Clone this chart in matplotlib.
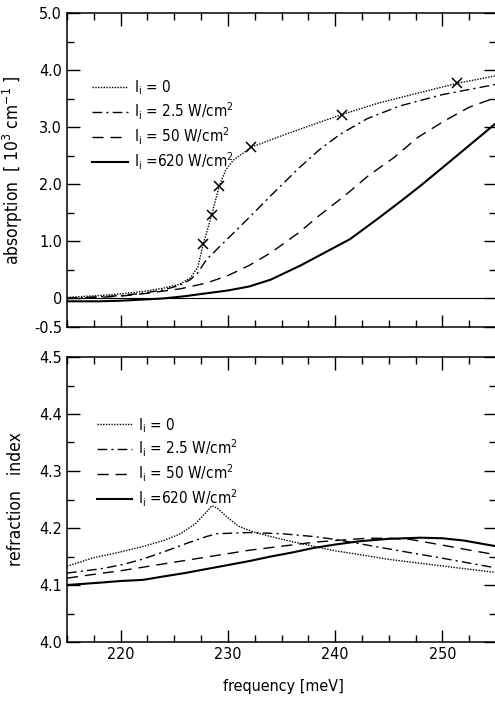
import matplotlib
matplotlib.use("Agg")
import matplotlib.pyplot as plt
from matplotlib.ticker import MultipleLocator

plt.rcParams['font.family'] = ['DejaVu Sans']
plt.rcParams['font.stretch'] = 'condensed'
plt.rcParams['mathtext.fontset'] = 'dejavusans'

# absorption [10^3 cm^-1] vs frequency [meV]
f_abs0 = [215, 218, 220, 222, 224, 225.5, 226.5, 227.2, 227.7, 228.5, 229.2, 229.8, 230.5,
          232.2, 235, 238, 240.6, 244, 248, 251.4, 255]
a_abs0 = [0.02, 0.05, 0.08, 0.12, 0.18, 0.25, 0.36, 0.55, 0.95, 1.47, 1.97, 2.25, 2.42,
          2.65, 2.85, 3.05, 3.22, 3.42, 3.61, 3.77, 3.90]
f_cross = [227.7, 228.5, 229.2, 232.2, 240.6, 251.4]
a_cross = [0.95, 1.47, 1.97, 2.65, 3.22, 3.77]

f_abs25 = [215, 218, 220, 222, 224, 225.5, 226.5, 227.2, 228, 230, 232, 234, 236.6,
           238.5, 240.5, 243, 246, 250, 255]
a_abs25 = [0.0, 0.03, 0.05, 0.09, 0.15, 0.23, 0.33, 0.45, 0.68, 1.05, 1.42, 1.80, 2.28,
           2.60, 2.88, 3.15, 3.37, 3.57, 3.75]

f_abs50 = [215, 218, 220, 222, 224, 225.6, 228, 230, 232, 234, 236.6, 238.5, 240.9,
           243.1, 245.5, 247.7, 250.1, 252.5, 255]
a_abs50 = [0.0, 0.02, 0.04, 0.08, 0.13, 0.17, 0.27, 0.40, 0.58, 0.80, 1.15, 1.45, 1.80,
           2.15, 2.47, 2.82, 3.10, 3.35, 3.52]

f_abs620 = [215, 218, 220, 222, 224, 226, 228, 230, 232, 234, 236.8, 239, 241.4,
            244, 246.1, 248, 250, 252.5, 255]
a_abs620 = [-0.05, -0.05, -0.04, -0.02, 0.0, 0.04, 0.09, 0.14, 0.21, 0.33, 0.58, 0.80, 1.04,
            1.40, 1.70, 1.98, 2.29, 2.68, 3.07]

# refraction index vs frequency [meV]
f_n0 = [215, 217.5, 220, 222, 224, 225.6, 227, 228, 228.5, 229, 230, 231, 232.4,
        234, 236, 238, 240, 242.4, 245, 248, 251, 255]
n_0 = [4.133, 4.148, 4.158, 4.167, 4.178, 4.19, 4.208, 4.228, 4.239, 4.235, 4.218, 4.203, 4.193,
       4.185, 4.176, 4.168, 4.16, 4.153, 4.145, 4.138, 4.131, 4.122]

f_n25 = [215, 218, 220, 222, 224, 226, 228, 229, 232, 235, 238, 240, 243, 246, 250, 255]
n_25 = [4.121, 4.128, 4.135, 4.145, 4.158, 4.172, 4.185, 4.19, 4.192, 4.19, 4.185, 4.18,
        4.17, 4.16, 4.147, 4.13]

f_n50 = [215, 218, 220, 222, 224, 226, 228, 230, 232, 235, 238, 240, 243, 245, 247, 250, 252, 255]
n_50 = [4.112, 4.12, 4.125, 4.131, 4.137, 4.143, 4.149, 4.155, 4.161, 4.168, 4.175, 4.178,
        4.182, 4.182, 4.18, 4.17, 4.163, 4.153]

f_n620 = [215, 218, 220, 222.1, 224, 226, 228, 230, 232, 234, 236, 238, 240, 242.4,
          245, 248, 250, 252, 255]
n_620 = [4.10, 4.104, 4.107, 4.109, 4.115, 4.121, 4.128, 4.135, 4.142, 4.15, 4.157, 4.165,
         4.171, 4.177, 4.181, 4.183, 4.182, 4.178, 4.168]

labels = ["I$_\\mathrm{i}$ = 0", "I$_\\mathrm{i}$ = 2.5 W/cm$^2$",
          "I$_\\mathrm{i}$ = 50 W/cm$^2$", "I$_\\mathrm{i}$ =620 W/cm$^2$"]

estilos = [dict(ls=(0, (1, 1)), lw=1.0),
           dict(ls=(0, (7, 3, 1.5, 3)), lw=1.0),
           dict(ls=(0, (8, 5)), lw=1.0),
           dict(ls='-', lw=1.5)]

fig = plt.figure(figsize=(4.95, 7.07), dpi=100)
ax1 = fig.add_axes([67/495, 1 - 327/707, 429/495, 314/707])
ax2 = fig.add_axes([67/495, 1 - 642/707, 429/495, 285/707])

# absorcion
series_abs = [(f_abs0, a_abs0), (f_abs25, a_abs25), (f_abs50, a_abs50), (f_abs620, a_abs620)]
for (f, a), st, lab in zip(series_abs, estilos, labels):
    ax1.plot(f, a, color='black', label=lab, **st)
ax1.plot(f_cross, a_cross, 'x', color='black', ms=7, mew=1.1)
ax1.axhline(0, color='black', lw=0.8)
ax1.set_ylim(-0.5, 5.0)
ax1.set_yticks([-0.5, 0, 1, 2, 3, 4, 5])
ax1.set_yticklabels(["-0.5", "0", "1.0", "2.0", "3.0", "4.0", "5.0"])
ax1.yaxis.set_minor_locator(MultipleLocator(0.5))
ax1.set_ylabel("absorption  [ 10$^3$ cm$^{-1}$ ]", fontsize=12.5)
ax1.yaxis.set_label_coords(-0.097, 0.5)
ax1.tick_params(labelbottom=False)
ax1.legend(loc='upper left', bbox_to_anchor=(0.045, 0.81), frameon=False, fontsize=11,
           handlelength=2.3, handletextpad=0.4, labelspacing=0.22, borderaxespad=0)

# refraccion
series_n = [(f_n0, n_0), (f_n25, n_25), (f_n50, n_50), (f_n620, n_620)]
for (f, n), st, lab in zip(series_n, estilos, labels):
    ax2.plot(f, n, color='black', label=lab, **st)
ax2.set_ylim(4.0, 4.5)
ax2.set_yticks([4.0, 4.1, 4.2, 4.3, 4.4, 4.5])
ax2.yaxis.set_minor_locator(MultipleLocator(0.05))
ax2.set_ylabel("refraction   index", fontsize=12.5)
ax2.yaxis.set_label_coords(-0.097, 0.5)
ax2.set_xlabel("frequency [meV]", fontsize=11.5)
ax2.xaxis.set_label_coords(0.505, -0.13)
ax2.legend(loc='upper left', bbox_to_anchor=(0.055, 0.815), frameon=False, fontsize=11,
           handlelength=2.3, handletextpad=0.4, labelspacing=0.22, borderaxespad=0)

for ax in (ax1, ax2):
    ax.set_xlim(215, 255)
    ax.set_xticks([220, 230, 240, 250])
    ax.xaxis.set_minor_locator(MultipleLocator(2.5))
    ax.tick_params(which='both', direction='in', top=True, right=True, labelsize=11.5)
    ax.tick_params(which='major', length=9, width=1.0)
    ax.tick_params(which='minor', length=5, width=1.0)
    for s in ax.spines.values():
        s.set_linewidth(1.1)

fig.savefig("out.png", dpi=100)
